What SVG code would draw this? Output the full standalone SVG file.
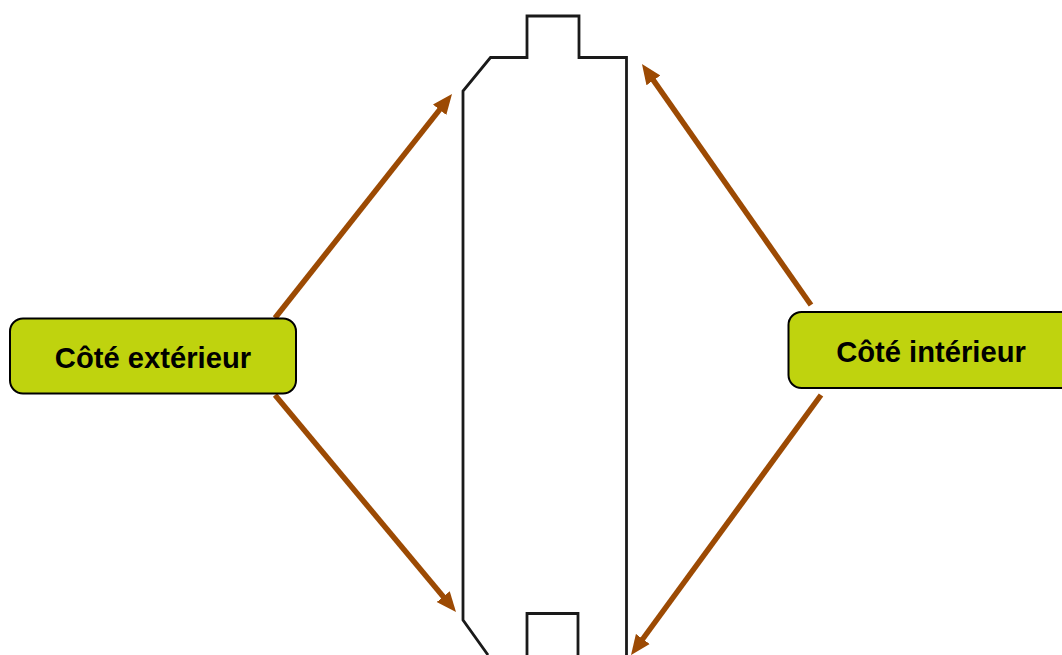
<svg xmlns="http://www.w3.org/2000/svg" width="1062" height="655" viewBox="0 0 1062 655">
<style>
.box{fill:#bfd30e;stroke:#000;stroke-width:2}
.lbl{font-family:"Liberation Sans",Arial,sans-serif;font-weight:700;font-size:29.2px;fill:#000;text-anchor:middle}
.conn{stroke:#9c4a03;stroke-width:5.5;fill:none;marker-end:url(#a)}
.shape{fill:none;stroke:#1a1a1a;stroke-width:2.8}
</style>
<defs>
<marker id="a" markerUnits="userSpaceOnUse" markerWidth="20" markerHeight="18" refX="10" refY="9" orient="auto" viewBox="0 0 20 18"><path d="M0 0.500L20 9L0 17.500z" fill="#9c4a03"/></marker>
</defs>
<rect width="1062" height="655" fill="#fff"/>
<g id="connectors">
<path class="conn" d="M275 318L445.800 101.900"/>
<path class="conn" d="M275 395L449.600 604.300"/>
<path class="conn" d="M811 305L647.700 72.200"/>
<path class="conn" d="M821 395L636.900 647"/>
</g>
<g id="piece">
<path class="shape" d="M488 655L463 620V91L490.500 57.500H527V16H579V57.500H626.500V655"/>
<path class="shape" d="M527 655V613.500H578V655"/>
</g>
<g id="cote-exterieur">
<rect class="box" x="10" y="318.500" width="286" height="75" rx="13"/>
<text class="lbl" x="153" y="368">Côté extérieur</text>
</g>
<g id="cote-interieur">
<rect class="box" x="788.500" y="312" width="290" height="76" rx="13"/>
<text class="lbl" x="931" y="362">Côté intérieur</text>
</g>
</svg>
